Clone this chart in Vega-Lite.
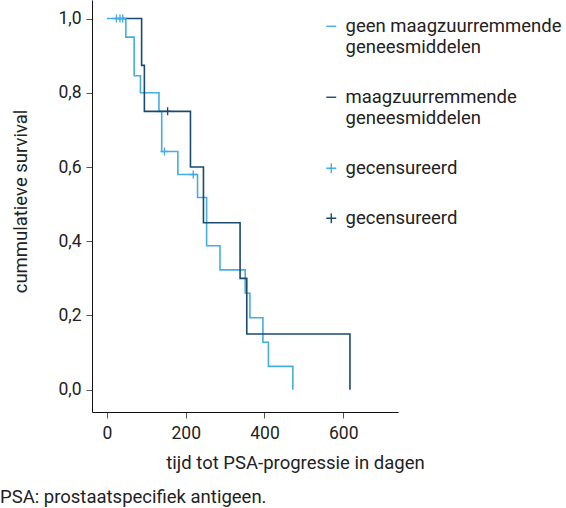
{
  "$schema": "https://vega.github.io/schema/vega-lite/v6.json",
  "width": 306,
  "height": 412,
  "autosize": {"type": "none"},
  "padding": {"left": 92, "top": 0, "right": 168, "bottom": 96},
  "config": {
    "font": "Roboto",
    "view": {"stroke": null},
    "axis": {
      "labelFont": "Roboto", "labelFontSize": 17.5, "labelColor": "#222",
      "titleFont": "Roboto", "titleFontSize": 18.5, "titleFontWeight": "normal", "titleColor": "#222",
      "domainColor": "#111", "tickColor": "#555", "tickSize": 6, "grid": false
    }
  },
  "title": {
    "text": "PSA: prostaatspecifiek antigeen.",
    "orient": "bottom", "anchor": "start", "frame": "group",
    "font": "Roboto", "fontSize": 18.5, "fontWeight": "normal", "color": "#222",
    "dx": -92, "offset": 16
  },
  "datasets": {
    "curves": [
      {"series": "A", "t": 0, "s": 1.0},
      {"series": "A", "t": 48, "s": 0.95},
      {"series": "A", "t": 69, "s": 0.846},
      {"series": "A", "t": 85, "s": 0.80},
      {"series": "A", "t": 132, "s": 0.75},
      {"series": "A", "t": 139, "s": 0.642},
      {"series": "A", "t": 180, "s": 0.58},
      {"series": "A", "t": 230, "s": 0.518},
      {"series": "A", "t": 253, "s": 0.388},
      {"series": "A", "t": 287, "s": 0.323},
      {"series": "A", "t": 351, "s": 0.26},
      {"series": "A", "t": 363, "s": 0.194},
      {"series": "A", "t": 396, "s": 0.128},
      {"series": "A", "t": 410, "s": 0.063},
      {"series": "A", "t": 472, "s": 0.0},
      {"series": "B", "t": 40, "s": 1.0},
      {"series": "B", "t": 88, "s": 0.874},
      {"series": "B", "t": 95, "s": 0.75},
      {"series": "B", "t": 212, "s": 0.60},
      {"series": "B", "t": 245, "s": 0.45},
      {"series": "B", "t": 338, "s": 0.30},
      {"series": "B", "t": 355, "s": 0.15},
      {"series": "B", "t": 617, "s": 0.0}
    ],
    "censored": [
      {"series": "C", "t": 24, "s": 1.0},
      {"series": "C", "t": 33, "s": 1.0},
      {"series": "C", "t": 40, "s": 1.0},
      {"series": "C", "t": 146, "s": 0.642},
      {"series": "C", "t": 219, "s": 0.58},
      {"series": "D", "t": 154, "s": 0.75}
    ]
  },
  "layer": [
    {
      "data": {"name": "curves"},
      "mark": {"type": "line", "interpolate": "step-after", "strokeWidth": 1.6},
      "encoding": {
        "x": {"field": "t", "type": "quantitative",
          "scale": {"domain": [-38, 739], "nice": false, "zero": false},
          "axis": {"values": [0, 200, 400, 600], "title": "tijd tot PSA-progressie in dagen",
            "labelPadding": 6, "titleX": 203, "titleY": 56, "titleAlign": "center", "titleBaseline": "alphabetic", "titleAnchor": null}},
        "y": {"field": "s", "type": "quantitative",
          "scale": {"domain": [-0.06, 1.05], "nice": false, "zero": false},
          "axis": {"values": [0, 0.2, 0.4, 0.6, 0.8, 1.0], "title": "cummulatieve survival",
            "labelExpr": "replace(format(datum.value, '.1f'), '.', ',')",
            "labelPadding": 5, "titleX": -66, "titleY": 201, "titleAlign": "center", "titleBaseline": "alphabetic", "titleAngle": -90}},
        "color": {"field": "series", "type": "nominal",
          "scale": {"domain": ["A", "B", "C", "D"], "range": ["#45ade0", "#1b4a6d", "#45ade0", "#1b4a6d"]}},
        "detail": {"field": "series"}
      }
    },
    {
      "data": {"name": "censored"},
      "mark": {"type": "point", "filled": false, "strokeWidth": 1.4, "opacity": 1, "size": 64},
      "encoding": {
        "x": {"field": "t", "type": "quantitative"},
        "y": {"field": "s", "type": "quantitative"},
        "color": {"field": "series", "type": "nominal",
          "legend": {
            "orient": "none", "legendX": 230, "legendY": 17, "title": null,
            "symbolSize": 100, "symbolStrokeWidth": 1.4, "symbolOpacity": 1,
            "labelFont": "Roboto", "labelFontSize": 18.5, "labelColor": "#222", "labelLineHeight": 25,
            "labelOffset": 5, "rowPadding": 31, "labelLimit": 300,
            "labelExpr": "datum.value == 'A' ? ['geen maagzuurremmende', 'geneesmiddelen'] : datum.value == 'B' ? ['maagzuurremmende', 'geneesmiddelen'] : 'gecensureerd'"
          }},
        "shape": {"field": "series", "type": "nominal",
          "scale": {"domain": ["A", "B", "C", "D"], "range": ["M-1,0H1", "M-1,0H1", "M-1,0H1M0,-1V1", "M-1,0H1M0,-1V1"]}}
      }
    }
  ]
}
